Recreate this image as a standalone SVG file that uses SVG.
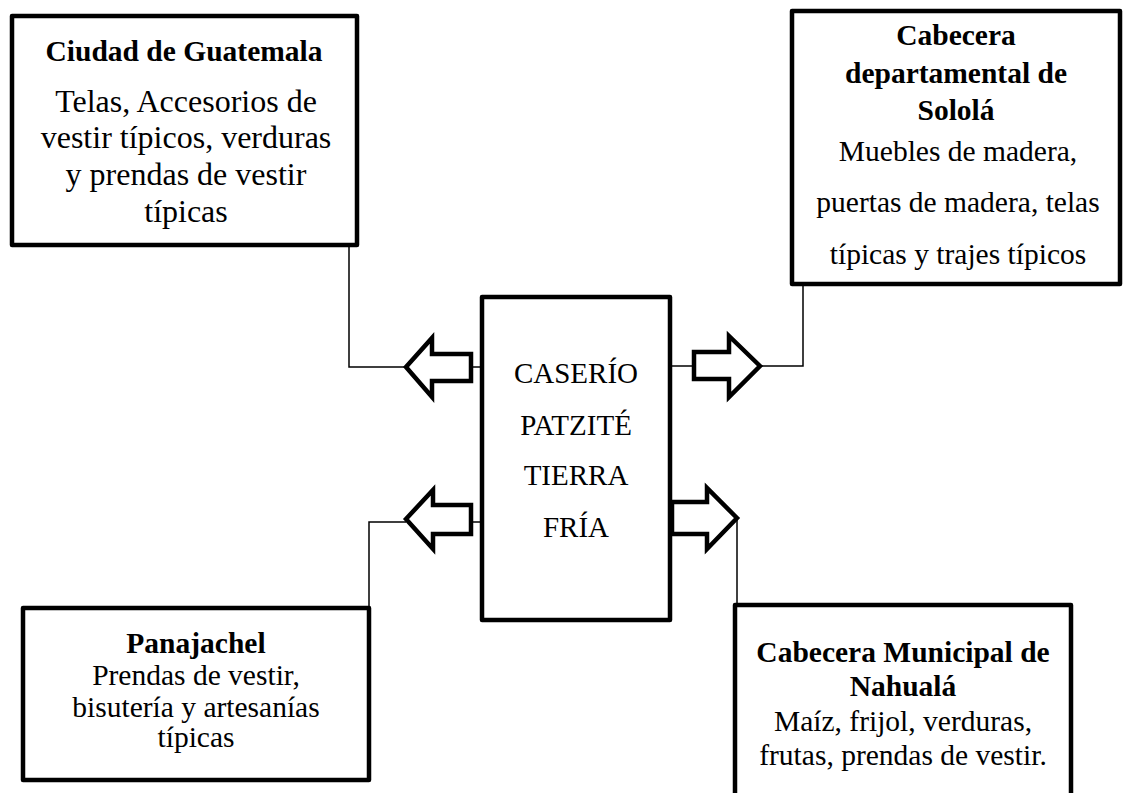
<svg xmlns="http://www.w3.org/2000/svg" width="1123" height="793" viewBox="0 0 1123 793">
<style>
.box{fill:#fff;stroke:#000;stroke-width:4.5;stroke-linejoin:round}
.arrow{fill:#fff;stroke:#000;stroke-width:4.5;stroke-linejoin:miter}
.conn{fill:none;stroke:#000;stroke-width:1.5}
text{font-family:"Liberation Serif","Times New Roman",serif;fill:#000;text-anchor:middle}
.b{font-weight:bold;font-size:29.5px}
.t{font-size:29.5px}
.tl{font-size:32px}
.c{font-size:29px}
</style>
<rect width="1123" height="793" fill="#fff"/>
<g id="connectors">
<polyline class="conn" points="482,367 471,367"/>
<polyline class="conn" points="406,367 349,367 349,247"/>
<polyline class="conn" points="670,366 694,366"/>
<polyline class="conn" points="760,366 803,366 803,286"/>
<polyline class="conn" points="482,522 471,522"/>
<polyline class="conn" points="406,522 369,522 369,606"/>
<polyline class="conn" points="737,517 737,605"/>
<polygon class="arrow" points="406,367 432,338 432,354 471,354 471,381 432,381 432,397"/>
<polygon class="arrow" points="760,366 729,336 729,352 694,352 694,379 729,379 729,397"/>
<polygon class="arrow" points="406,519 433,490 433,505 471,505 471,534 433,534 433,549"/>
<polygon class="arrow" points="737,518 707,488 707,502 672,502 672,534 707,534 707,549"/>
</g>
<g id="guatemala">
<rect class="box" x="12" y="16" width="345" height="229"/>
<text class="b" x="184" y="61">Ciudad de Guatemala</text>
<text class="tl" x="186" y="112">Telas, Accesorios de</text>
<text class="tl" x="186" y="148">vestir típicos, verduras</text>
<text class="tl" x="186" y="185">y prendas de vestir</text>
<text class="tl" x="186" y="222">típicas</text>
</g>
<g id="solola">
<rect class="box" x="792" y="11" width="328" height="273"/>
<text class="b" x="956" y="45">Cabecera</text>
<text class="b" x="956" y="83">departamental de</text>
<text class="b" x="956" y="120">Sololá</text>
<text class="t" x="958" y="161">Muebles de madera,</text>
<text class="t" x="958" y="212">puertas de madera, telas</text>
<text class="t" x="958" y="264">típicas y trajes típicos</text>
</g>
<g id="caserio">
<rect class="box" x="482" y="297" width="188" height="323"/>
<text class="c" x="576" y="383">CASERÍO</text>
<text class="c" x="576" y="435">PATZITÉ</text>
<text class="c" x="576" y="485">TIERRA</text>
<text class="c" x="576" y="537">FRÍA</text>
</g>
<g id="panajachel">
<rect class="box" x="23" y="608" width="346" height="172"/>
<text class="b" x="196" y="653">Panajachel</text>
<text class="t" x="196" y="685">Prendas de vestir,</text>
<text class="t" x="196" y="717">bisutería y artesanías</text>
<text class="t" x="196" y="747">típicas</text>
</g>
<g id="nahuala">
<rect class="box" x="735" y="605" width="336" height="200"/>
<text class="b" x="903" y="662">Cabecera Municipal de</text>
<text class="b" x="903" y="696">Nahualá</text>
<text class="t" x="903" y="731">Maíz, frijol, verduras,</text>
<text class="t" x="903" y="765">frutas, prendas de vestir.</text>
</g>
</svg>
